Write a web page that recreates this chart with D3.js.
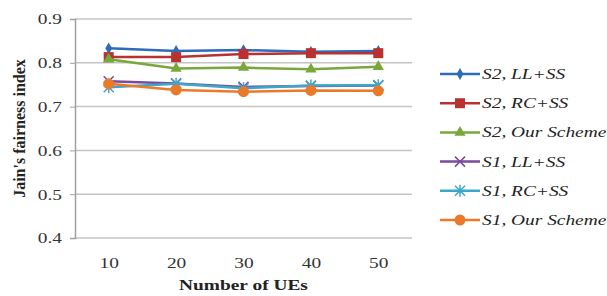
<!DOCTYPE html>
<meta charset="utf-8">
<style>
body { margin: 0; background: #fff; }
text { font-family: "Liberation Serif", "Times New Roman", serif; }
.tick text { font-size: 15.5px; fill: #333; }
.legend text { font-size: 15.5px; font-style: italic; fill: #222; }
.title { font-size: 15.5px; font-weight: bold; fill: #222; }
</style>
<div id="chart"></div>
<script src="https://d3js.org/d3.v7.min.js"></script>
<script>

var ues = ["10", "20", "30", "40", "50"];
var yTicks = [0.4, 0.5, 0.6, 0.7, 0.8, 0.9];

var names = ["S2, LL+SS", "S2, RC+SS", "S2, Our Scheme", "S1, LL+SS", "S1, RC+SS", "S1, Our Scheme"];
var colors = ["#2e6bb8", "#b83232", "#78a83a", "#7a4a9e", "#3aa8c8", "#ea7a2a"];
var markers = ["diamond", "square", "triangle", "x", "star", "circle"];

var s2LL = [0.833, 0.827, 0.829, 0.825, 0.827];
var s2RC = [0.813, 0.813, 0.820, 0.822, 0.822];
var s2Our = [0.808, 0.787, 0.789, 0.785, 0.791];
var s1LL = [0.758, 0.753, 0.745, 0.747, 0.748];
var s1RC = [0.744, 0.752, 0.742, 0.748, 0.749];
var s1Our = [0.752, 0.738, 0.734, 0.737, 0.736];

var series = [s2LL, s2RC, s2Our, s1LL, s1RC, s1Our];

var width = 607, height = 296;
var margin = {left: 75, right: 195, top: 19, bottom: 58};
var stretch = 1.25; // the picture is a bit wider than tall

var svg = d3.select("#chart").append("svg")
    .attr("width", width)
    .attr("height", height);

var x = d3.scalePoint()
    .domain(ues)
    .range([margin.left, width - margin.right])
    .padding(0.5);

var y = d3.scaleLinear()
    .domain([0.4, 0.9])
    .range([height - margin.bottom, margin.top]);

// grid
svg.append("g")
  .selectAll("line")
  .data(yTicks)
  .enter().append("line")
    .attr("x1", margin.left)
    .attr("x2", width - margin.right)
    .attr("y1", function(d) { return y(d); })
    .attr("y2", function(d) { return y(d); })
    .attr("stroke", "#c4c4c4")
    .attr("stroke-width", 1.5);

var yAxis = svg.append("g")
    .attr("transform", "translate(" + margin.left + ",0)")
    .call(d3.axisLeft(y).tickValues(yTicks).tickFormat(d3.format(".1f")).tickSize(5).tickPadding(8));
yAxis.select(".domain").attr("stroke", "#a0a0a0").attr("stroke-width", 1.5);
yAxis.selectAll(".tick line").attr("stroke", "#a0a0a0");

var xAxis = svg.append("g")
    .attr("transform", "translate(0," + (height - margin.bottom) + ")")
    .call(d3.axisBottom(x).tickSize(0).tickPadding(19));
xAxis.select(".domain").remove();

svg.append("text")
    .attr("class", "title wide")
    .attr("x", (margin.left + width - margin.right) / 2)
    .attr("y", 290)
    .attr("text-anchor", "middle")
    .text("Number of UEs");

svg.append("text")
    .attr("class", "title")
    .attr("transform", "translate(25," + ((margin.top + height - margin.bottom) / 2) + ") rotate(-90)")
    .attr("text-anchor", "middle")
    .style("font-size", "16px")
    .text("Jain's fairness index");

function drawMarker(g, type, color) {
  if (type == "diamond") {
    g.append("path").attr("d", d3.symbol(d3.symbolDiamond, 40)()).attr("fill", color);
  } else if (type == "square") {
    g.append("rect").attr("x", -5).attr("y", -5).attr("width", 10).attr("height", 10).attr("fill", color);
  } else if (type == "triangle") {
    g.append("path").attr("d", d3.symbol(d3.symbolTriangle, 55)()).attr("fill", color);
  } else if (type == "x") {
    g.append("path").attr("d", "M-5,-5L5,5M-5,5L5,-5").attr("stroke", color).attr("stroke-width", 1.5);
  } else if (type == "star") {
    g.append("path").attr("d", "M-5,-5L5,5M-5,5L5,-5M0,-6L0,6").attr("stroke", color).attr("stroke-width", 1.5);
  } else {
    g.append("circle").attr("r", 5.5).attr("fill", color);
  }
}

var line = d3.line()
    .x(function(d, i) { return x(ues[i]); })
    .y(function(d) { return y(d); });

series.forEach(function(s, k) {
  svg.append("path")
      .datum(s)
      .attr("fill", "none")
      .attr("stroke", colors[k])
      .attr("stroke-width", 2.5)
      .attr("d", line);
  s.forEach(function(v, i) {
    var g = svg.append("g").attr("transform", "translate(" + x(ues[i]) + "," + y(v) + ")");
    drawMarker(g, markers[k], colors[k]);
  });
});

// legend
var legend = svg.append("g").attr("class", "legend");
names.forEach(function(n, k) {
  var ly = 74 + k * 29.2;
  var g = legend.append("g").attr("transform", "translate(440," + ly + ")");
  g.append("line").attr("x1", 0).attr("x2", 40).attr("stroke", colors[k]).attr("stroke-width", 2.5);
  var m = g.append("g").attr("transform", "translate(20,0)");
  drawMarker(m, markers[k], colors[k]);
  g.append("text").attr("class", "wide").attr("x", 42).attr("y", 5).text(n);
});

// widen horizontal texts
svg.selectAll(".tick text, text.wide").each(function() {
  var len = this.getComputedTextLength();
  d3.select(this).attr("textLength", len * stretch).attr("lengthAdjust", "spacingAndGlyphs");
});

</script>
